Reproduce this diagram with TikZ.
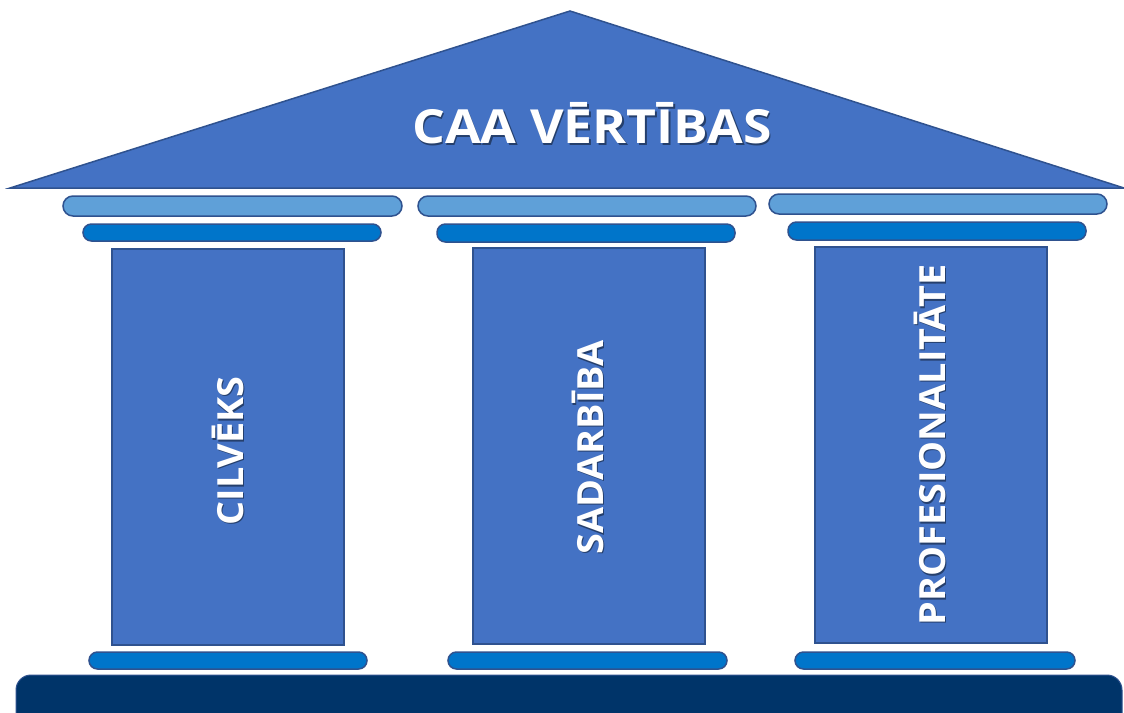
\documentclass[tikz,border=0pt]{standalone}
\usepackage{fontspec}
\setmainfont{Open Sans}
\newfontfamily\roofface[FakeStretch=1.10]{Open Sans}
\newfontfamily\colface[FakeStretch=1.05]{Open Sans}
\definecolor{roofblue}{HTML}{4472C4}
\definecolor{edgeblue}{HTML}{2F528F}
\definecolor{lightbar}{HTML}{5FA0D8}
\definecolor{midbar}{HTML}{0075CA}
\definecolor{navy}{HTML}{003469}
\colorlet{shadowcol}{roofblue!55!black}
\newcommand{\mytxtshadow}[3]{\rlap{\hspace*{#2}\raisebox{#3}{\color{shadowcol}#1}}#1}
\tikzset{
  part/.style={fill=roofblue, draw=edgeblue, line width=1.5pt},
  topbar/.style={fill=lightbar, draw=edgeblue, line width=1.5pt, rounded corners=10pt},
  midbarst/.style={fill=midbar, draw=edgeblue, line width=1.5pt, rounded corners=8.5pt},
  basest/.style={fill=navy, draw=edgeblue, line width=1pt, rounded corners=15pt},
  label/.style={text=white, inner sep=0pt, anchor=base},
  rooffont/.style={font=\roofface\fontsize{47}{54}\selectfont\bfseries},
  colfont/.style={font=\colface\fontsize{36}{42}\selectfont\bfseries}
}
\begin{document}
\begin{tikzpicture}[x=1pt,y=-1pt]
\useasboundingbox (0,0) rectangle (1124,712);
\fill[white] (0,0) rectangle (1124,712);
% roof
\draw[part, line join=miter] (10,188) -- (570,11) -- (1124,188) -- cycle;
% top bars
\draw[topbar] (63,196) rectangle (402,216);
\draw[topbar] (418,196) rectangle (756,216);
\draw[topbar] (769,194) rectangle (1107,214);
% second bars
\draw[midbarst] (83,224) rectangle (381,241);
\draw[midbarst] (437,224) rectangle (735,242);
\draw[midbarst] (788,222) rectangle (1086,240);
% columns
\draw[part] (112,249) rectangle (344,645);
\draw[part] (473,248) rectangle (705,644);
\draw[part] (815,247) rectangle (1047,643);
% bottom bars
\draw[midbarst] (89,652) rectangle (367,669);
\draw[midbarst] (448,652) rectangle (727,669);
\draw[midbarst] (795,652) rectangle (1075,669);
% base
\draw[basest] (16,675) rectangle (1122,730);
% texts
\node[label, rooffont] (rooftxt) at (592,143) {\mytxtshadow{CAA VĒRTĪBAS}{1.5pt}{-2pt}};
\node[label, rotate=90, colfont] (c1) at (243,451) {\mytxtshadow{CILVĒKS}{-1.5pt}{-1.5pt}};
\node[label, rotate=90, colfont] (c2) at (603,447.5) {\mytxtshadow{SADARBĪBA}{-1.5pt}{-1.5pt}};
\node[label, rotate=90, colfont] (c3) at (945,445) {\mytxtshadow{PROFESIONALITĀTE}{-1.5pt}{-1.5pt}};
\end{tikzpicture}
\end{document}
